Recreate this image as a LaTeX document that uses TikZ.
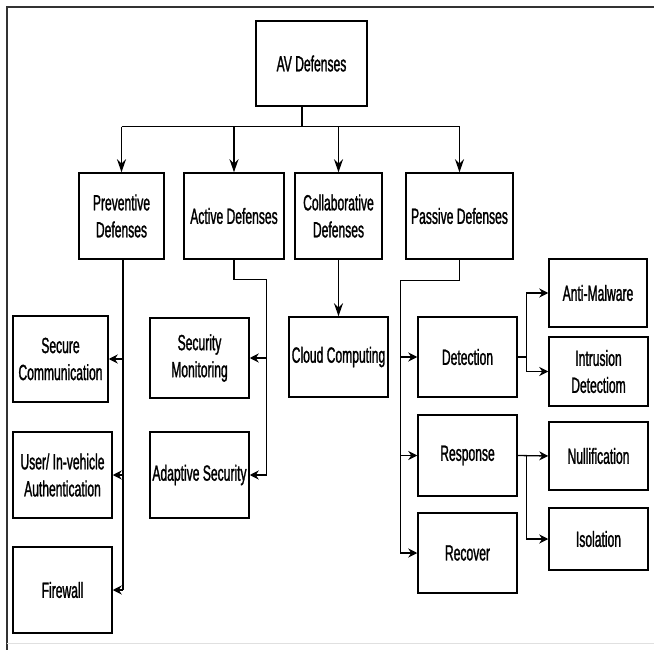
\documentclass[tikz,border=0pt]{standalone}
\usepackage{fontspec}
\setmainfont{Liberation Sans}[FakeStretch=0.55, FakeBold=1.2]
\usepackage{tikz}
\usetikzlibrary{arrows.meta,positioning,calc}

\begin{document}
\begin{tikzpicture}[
  x=1pt, y=-1pt,
  font=\fontsize{22}{27}\selectfont,
  box/.style={draw, line width=1.5pt, inner sep=0pt, align=center,
    minimum width=99pt, minimum height=86pt},
  line/.style={line width=1.3pt},
  arr/.style={line, -{Stealth[length=9pt, width=9pt]}},
  arrv/.style={line, -{Stealth[length=13pt, width=9pt]}},
]
\useasboundingbox (0,0) rectangle (654,650);
\draw[line width=1.5pt, black!80] (654,7) -- (7,7) -- (7,650);
\draw[line width=1pt, black!12] (7,643) -- (654,643);

\node[box, minimum width=111pt, minimum height=85pt] (av) at (311.5,63.5) {AV Defenses};

\node[box, minimum width=85pt] (prev) at (121.5,216) {Preventive\\Defenses};
\node[box, minimum width=100pt] (act) at (234,216) {Active Defenses};
\node[box, minimum width=87pt] (collab) at (338.5,216) {Collaborative\\Defenses};
\node[box, minimum width=107pt] (pass) at (459.5,216) {Passive Defenses};

\node[box, minimum width=95pt] (secure) at (60.5,359) {Secure\\Communication};
\node[box] (user) at (62.5,475) {User/ In-vehicle\\Authentication};
\node[box] (fire) at (62.5,590) {Firewall};

\node[box, minimum height=80pt] (secmon) at (199.5,358) {Security\\Monitoring};
\node[box] (adapt) at (199.5,475) {Adaptive Security};

\node[box, minimum height=80pt] (cloud) at (338.5,357) {Cloud Computing};

\node[box, minimum height=80pt] (detect) at (467.5,357) {Detection};
\node[box, minimum height=81pt] (resp) at (467.5,455.5) {Response};
\node[box, minimum height=80pt] (recov) at (467.5,553) {Recover};

\node[box, minimum width=98pt, minimum height=68pt] (anti) at (598,293) {Anti-Malware};
\node[box, minimum height=69pt] (intr) at (598.5,371.5) {Intrusion\\Detectiom};
\node[box, minimum height=68pt] (null) at (598.5,456) {Nullification};
\node[box, minimum height=62pt] (iso) at (598.5,539) {Isolation};

\coordinate (avout) at ([xshift=-9.5pt]av.south);
\draw[line] (avout) -- ++(0,20) coordinate (bus);
\draw[line] (prev.north |- bus) -- (pass.north |- bus);
\foreach \n in {prev,act,collab,pass}
  \draw[arrv] (\n.north |- bus) -- (\n.north);

\coordinate (prevbus) at ([xshift=1.5pt]prev.south);
\draw[line] (prevbus) -- (prevbus |- fire.east);
\foreach \n in {secure,user,fire}
  \draw[arr] (prevbus |- \n.east) -- (\n.east);

\coordinate (actbus) at ([xshift=17pt]secmon.east);
\draw[line] (act.south) -- ++(0,20) -| (actbus |- adapt.east);
\foreach \n in {secmon,adapt}
  \draw[arr] (actbus |- \n.east) -- (\n.east);

\draw[arrv] (collab.south) -- (cloud.north);

\coordinate (passbus) at ([xshift=-17pt]detect.west);
\draw[line] (pass.south) -- ++(0,21) -| (passbus |- recov.west);
\foreach \n in {detect,resp,recov}
  \draw[arr] (passbus |- \n.west) -- (\n.west);

\coordinate (detbus) at ([xshift=9pt]detect.east);
\draw[arr] (detect.east) -- (detbus) |- (anti.west);
\draw[arr] (detbus) |- (intr.west);

\coordinate (respbus) at ([xshift=9pt]resp.east);
\draw[arr] (resp.east) -- (null.west);
\draw[arr] (respbus) |- (iso.west);
\end{tikzpicture}
\end{document}
